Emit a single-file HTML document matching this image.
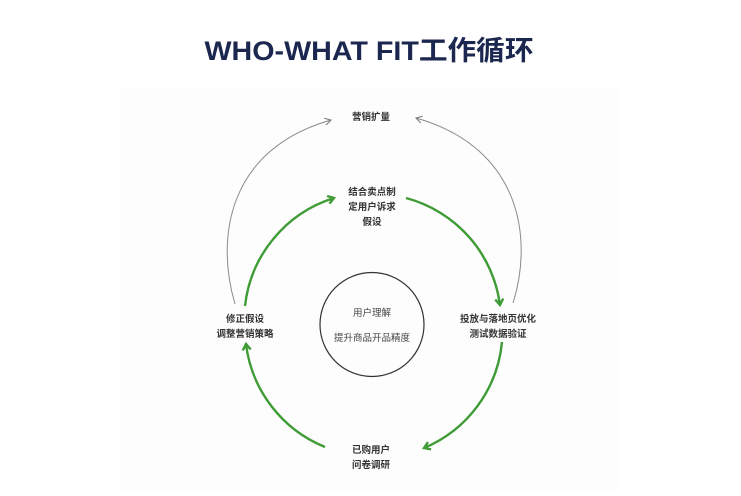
<!DOCTYPE html>
<html><head><meta charset="utf-8">
<style>
html,body{margin:0;padding:0;background:#fff;}
svg{display:block;}
text{font-family:"Liberation Sans","Noto Sans CJK SC",sans-serif;}
</style></head>
<body>
<svg width="741" height="496" viewBox="0 0 741 496" xmlns="http://www.w3.org/2000/svg">
<defs>
<marker id="g" markerWidth="10" markerHeight="10" refX="7" refY="5" orient="auto" markerUnits="userSpaceOnUse">
<path d="M1,1 L7,5 L1,9" fill="none" stroke="#3e9b36" stroke-width="2.4" stroke-linejoin="miter"/>
</marker>
<marker id="k" markerWidth="10" markerHeight="10" refX="7" refY="5" orient="auto" markerUnits="userSpaceOnUse">
<path d="M1,1.5 L7,5 L1,8.5" fill="none" stroke="#777" stroke-width="1"/>
</marker>
</defs>
<rect x="120" y="88" width="500" height="404" fill="#fdfdfd"/>
<text x="369" y="60" text-anchor="middle" font-size="27" font-weight="bold" fill="#1c2750" textLength="329" lengthAdjust="spacingAndGlyphs">WHO-WHAT FIT工作循环</text>

<!-- gray arcs -->
<path d="M235,304 C216,240 226,150 331,120" fill="none" stroke="#8a8a8a" stroke-width="1" marker-end="url(#k)"/>
<path d="M513,303 C533,240 522,148 416,118" fill="none" stroke="#8a8a8a" stroke-width="1" marker-end="url(#k)"/>

<!-- green arcs -->
<path d="M245,306 A128,128 0 0 1 334,198" fill="none" stroke="#3e9b36" stroke-width="2.4" marker-end="url(#g)"/>
<path d="M406,198 A128,128 0 0 1 500,305" fill="none" stroke="#3e9b36" stroke-width="2.4" marker-end="url(#g)"/>
<path d="M502,342 A128,128 0 0 1 424,448" fill="none" stroke="#3e9b36" stroke-width="2.4" marker-end="url(#g)"/>
<path d="M325,447 A128,128 0 0 1 246,344" fill="none" stroke="#3e9b36" stroke-width="2.4" marker-end="url(#g)"/>

<circle cx="372" cy="324.5" r="52" fill="none" stroke="#333" stroke-width="1.2"/>

<g font-size="9.5" font-weight="bold" fill="#333" text-anchor="middle">
<text x="371" y="120">营销扩量</text>
<text x="372" y="195">结合卖点制</text>
<text x="372" y="210">定用户诉求</text>
<text x="372" y="225">假设</text>
<text x="245" y="322">修正假设</text>
<text x="245" y="337">调整营销策略</text>
<text x="498" y="322">投放与落地页优化</text>
<text x="498" y="337">测试数据验证</text>
<text x="371" y="453">已购用户</text>
<text x="371" y="468">问卷调研</text>
</g>
<g font-size="9.5" fill="#444" text-anchor="middle">
<text x="372" y="316">用户理解</text>
<text x="372" y="341">提升商品开品精度</text>
</g>
</svg>
</body></html>
